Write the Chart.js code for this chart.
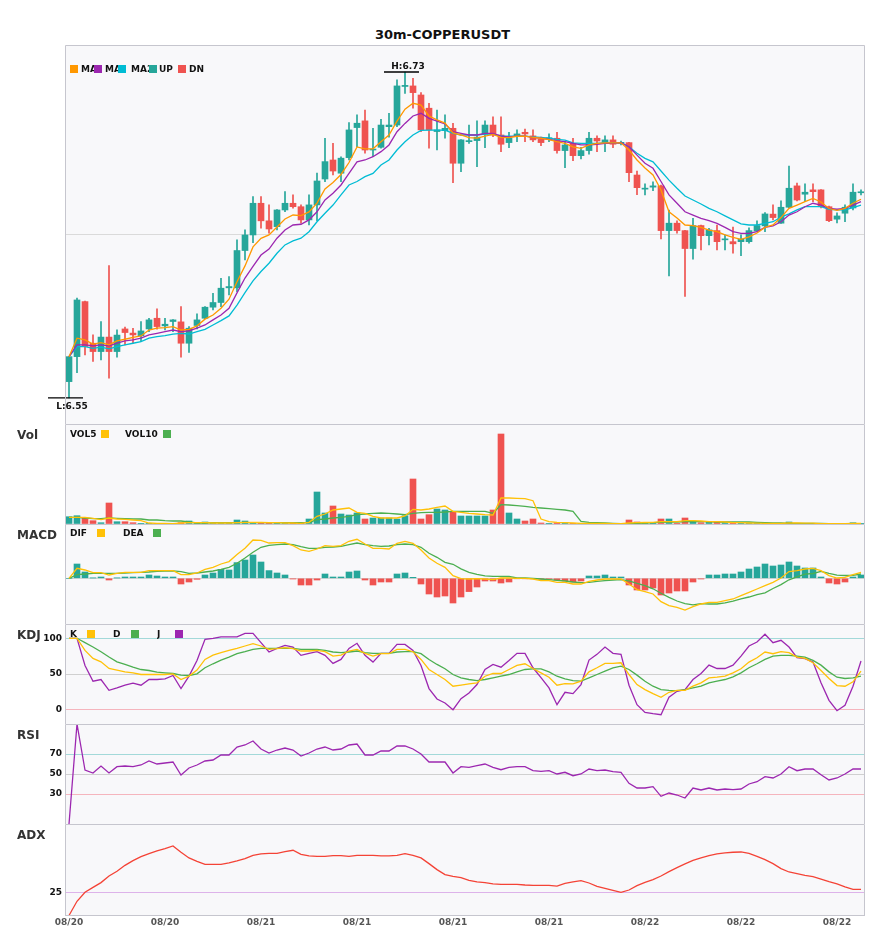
<!DOCTYPE html>
<html>
<head>
<meta charset="utf-8">
<title>30m-COPPERUSDT</title>
<script src="https://cdn.jsdelivr.net/npm/chart.js@4.4.0/dist/chart.umd.min.js"></script>
<style>
  body { margin: 0; background: #fff; font-family: "DejaVu Sans", sans-serif; }
  #page { position: relative; width: 885px; height: 950px; overflow: hidden; }
  .panel { position: absolute; left: 0; width: 885px; }
  .title { position: absolute; left: 0; top: 27px; width: 885px; text-align: center; font-weight: bold; font-size: 13px; line-height: 16px; color: #111; }
  .plabel { position: absolute; left: 17px; font-weight: bold; font-size: 12px; line-height: 16px; color: #333; }
  .leg { position: absolute; font-weight: bold; font-size: 9px; line-height: 10px; color: #111; white-space: nowrap; overflow: hidden; }
  .sq { position: absolute; width: 8px; height: 8px; }
</style>
</head>
<body>
<div id="page">
  <div class="title">30m-COPPERUSDT</div>

  <div class="panel" style="top:45px;height:379px"><canvas id="mainChart"></canvas></div>
  <div class="panel" style="top:424px;height:100px"><canvas id="volChart"></canvas></div>
  <div class="panel" style="top:524px;height:100px"><canvas id="macdChart"></canvas></div>
  <div class="panel" style="top:624px;height:100px"><canvas id="kdjChart"></canvas></div>
  <div class="panel" style="top:724px;height:100px"><canvas id="rsiChart"></canvas></div>
  <div class="panel" style="top:824px;height:126px"><canvas id="adxChart"></canvas></div>

  <div class="plabel" style="top:427px">Vol</div>
  <div class="plabel" style="top:527px">MACD</div>
  <div class="plabel" style="top:627px">KDJ</div>
  <div class="plabel" style="top:727px">RSI</div>
  <div class="plabel" style="top:827px">ADX</div>

  <!-- main legend: the MA names are partly covered by the next swatch -->
  <span class="leg" style="left:81px;top:64px;width:13px">MA5</span>
  <span class="leg" style="left:105px;top:64px;width:13px">MA10</span>
  <span class="leg" style="left:131px;top:64px;width:18px">MA20</span>
  <span class="leg" style="left:159px;top:64px">UP</span>
  <span class="leg" style="left:189px;top:64px">DN</span>
  <span class="sq" style="left:70px;top:65px;background:#ff9800"></span>
  <span class="sq" style="left:94px;top:65px;background:#9c27b0"></span>
  <span class="sq" style="left:118px;top:65px;background:#00bcd4"></span>
  <span class="sq" style="left:149px;top:65px;background:#26a69a"></span>
  <span class="sq" style="left:178px;top:65px;background:#ef5350"></span>

  <span class="leg" style="left:70px;top:429px">VOL5</span>
  <span class="sq" style="left:101px;top:430px;background:#ffc107"></span>
  <span class="leg" style="left:125px;top:429px">VOL10</span>
  <span class="sq" style="left:163px;top:430px;background:#4caf50"></span>

  <span class="leg" style="left:70px;top:528px">DIF</span>
  <span class="sq" style="left:97px;top:529px;background:#ffc107"></span>
  <span class="leg" style="left:123px;top:528px">DEA</span>
  <span class="sq" style="left:153px;top:529px;background:#4caf50"></span>

  <span class="leg" style="left:70px;top:629px">K</span>
  <span class="sq" style="left:87px;top:630px;background:#ffc107"></span>
  <span class="leg" style="left:113px;top:629px">D</span>
  <span class="sq" style="left:131px;top:630px;background:#4caf50"></span>
  <span class="leg" style="left:157px;top:629px">J</span>
  <span class="sq" style="left:175px;top:630px;background:#9c27b0"></span>
</div>

<script>
// 30 minute candles, 08/20 to 08/22
const categories = [];
for (let i = 0; i < 100; i++) {
  const t = new Date(Date.UTC(2025, 7, 20, 14, 0) + i * 30 * 60000);
  const p = (n) => String(n).padStart(2, '0');
  categories.push(p(t.getUTCMonth() + 1) + '/' + p(t.getUTCDate()) + ' ' + p(t.getUTCHours()) + ':' + p(t.getUTCMinutes()));
}

const opens = [
  6.5590,6.5728,6.6032,6.5802,6.5756,6.5836,6.5756,6.5881,6.5858,6.5843,
  6.5881,6.5940,6.5898,6.5922,6.5920,6.5802,6.5900,6.5940,6.6001,6.6027,
  6.6108,6.6108,6.6314,6.6400,6.6575,6.6478,6.6446,6.6538,6.6575,6.6556,
  6.6483,6.6566,6.6709,6.6814,6.6741,6.6827,6.6993,6.7030,6.6869,6.6884,
  6.6998,6.7007,6.7220,6.7223,6.7173,6.7100,6.6971,6.6976,6.6989,6.6796,
  6.6915,6.6921,6.6956,6.7007,6.6952,6.6910,6.6943,6.6967,6.6947,6.6928,
  6.6930,6.6934,6.6866,6.6906,6.6838,6.6866,6.6934,6.6910,6.6925,6.6906,
  6.6910,6.6731,6.6653,6.6664,6.6671,6.6424,6.6465,6.6424,6.6325,6.6452,
  6.6396,6.6424,6.6373,6.6363,6.6363,6.6363,6.6422,6.6450,6.6515,6.6465,
  6.6553,6.6671,6.6625,6.6649,6.6649,6.6556,6.6487,6.6520,6.6549,6.6633
];
const highs = [
  6.5730,6.6051,6.6035,6.5848,6.5922,6.6231,6.5876,6.5891,6.5885,6.5922,
  6.5940,6.5992,6.5940,6.5932,6.6004,6.5894,6.5964,6.6004,6.6078,6.6161,
  6.6170,6.6373,6.6428,6.6612,6.6612,6.6566,6.6540,6.6639,6.6621,6.6566,
  6.6621,6.6741,6.6934,6.6906,6.6832,6.7020,6.7063,6.7090,6.6989,6.7039,
  6.7072,6.7256,6.7300,6.7265,6.7186,6.7127,6.7090,6.7063,6.7017,6.6927,
  6.7007,6.7030,6.7030,6.7053,6.7053,6.6967,6.6980,6.6984,6.6980,6.6940,
  6.6958,6.6967,6.6915,6.6934,6.6884,6.6967,6.6947,6.6947,6.6947,6.6919,
  6.6912,6.6753,6.6682,6.6694,6.6676,6.6538,6.6478,6.6426,6.6492,6.6455,
  6.6437,6.6455,6.6400,6.6443,6.6400,6.6439,6.6478,6.6523,6.6566,6.6588,
  6.6781,6.6686,6.6682,6.6682,6.6651,6.6560,6.6522,6.6566,6.6682,6.6649
];
const lows = [
  6.5500,6.5640,6.5738,6.5701,6.5710,6.5609,6.5725,6.5793,6.5802,6.5811,
  6.5866,6.5880,6.5876,6.5866,6.5725,6.5751,6.5881,6.5938,6.5986,6.6004,
  6.6069,6.6087,6.6262,6.6358,6.6437,6.6410,6.6428,6.6529,6.6548,6.6465,
  6.6455,6.6479,6.6694,6.6731,6.6694,6.6814,6.6888,6.6851,6.6832,6.6879,
  6.6940,6.6998,6.7182,6.7100,6.6970,6.6879,6.6869,6.6934,6.6689,6.6750,
  6.6906,6.6777,6.6882,6.6943,6.6860,6.6882,6.6915,6.6915,6.6915,6.6893,
  6.6915,6.6851,6.6772,6.6810,6.6820,6.6846,6.6860,6.6860,6.6882,6.6897,
  6.6694,6.6623,6.6621,6.6645,6.6378,6.6174,6.6410,6.6060,6.6266,6.6317,
  6.6345,6.6317,6.6317,6.6299,6.6286,6.6355,6.6418,6.6418,6.6483,6.6463,
  6.6550,6.6588,6.6584,6.6584,6.6549,6.6474,6.6467,6.6474,6.6538,6.6621
];
const closes = [
  6.5728,6.6041,6.5784,6.5756,6.5836,6.5756,6.5847,6.5861,6.5848,6.5870,
  6.5931,6.5894,6.5907,6.5931,6.5802,6.5885,6.5931,6.6001,6.6027,6.6106,
  6.6115,6.6314,6.6400,6.6575,6.6478,6.6433,6.6538,6.6575,6.6556,6.6483,
  6.6566,6.6698,6.6805,6.6753,6.6824,6.6980,6.7017,6.6869,6.6873,6.7007,
  6.7007,6.7223,6.7226,6.7186,6.6980,6.6980,6.6980,6.6989,6.6796,6.6925,
  6.6921,6.6940,6.7007,6.6952,6.6901,6.6934,6.6958,6.6958,6.6925,6.6910,
  6.6937,6.6866,6.6897,6.6838,6.6866,6.6934,6.6919,6.6925,6.6901,6.6910,
  6.6744,6.6661,6.6658,6.6671,6.6424,6.6465,6.6424,6.6325,6.6452,6.6396,
  6.6428,6.6363,6.6377,6.6351,6.6377,6.6424,6.6452,6.6516,6.6496,6.6553,
  6.6658,6.6593,6.6636,6.6639,6.6556,6.6479,6.6505,6.6553,6.6636,6.6638
];

const ma5 = [
  6.5728,6.5830,6.5820,6.5797,6.5805,6.5793,6.5815,6.5824,6.5835,6.5842,
  6.5875,6.5885,6.5888,6.5894,6.5875,6.5879,6.5898,6.5935,6.5958,6.5995,
  6.6045,6.6142,6.6229,6.6334,6.6381,6.6400,6.6444,6.6488,6.6510,6.6507,
  6.6527,6.6576,6.6654,6.6690,6.6734,6.6800,6.6886,6.6875,6.6876,6.6915,
  6.6952,6.7029,6.7095,6.7127,6.7117,6.7057,6.7036,6.7018,6.6963,6.6952,
  6.6938,6.6935,6.6946,6.6955,6.6939,6.6937,6.6945,6.6946,6.6939,6.6934,
  6.6927,6.6915,6.6906,6.6887,6.6878,6.6897,6.6906,6.6909,6.6908,6.6909,
  6.6869,6.6814,6.6770,6.6731,6.6648,6.6528,6.6494,6.6455,6.6452,6.6442,
  6.6427,6.6418,6.6400,6.6387,6.6376,6.6389,6.6411,6.6442,6.6455,6.6496,
  6.6547,6.6565,6.6584,6.6602,6.6582,6.6546,6.6536,6.6547,6.6575,6.6597
];
const ma10 = [
  6.5728,6.5793,6.5793,6.5787,6.5793,6.5787,6.5802,6.5815,6.5820,6.5830,
  6.5848,6.5857,6.5866,6.5875,6.5866,6.5871,6.5885,6.5903,6.5931,6.5958,
  6.5995,6.6080,6.6162,6.6226,6.6289,6.6322,6.6382,6.6427,6.6455,6.6459,
  6.6483,6.6528,6.6593,6.6630,6.6676,6.6740,6.6804,6.6814,6.6832,6.6860,
  6.6897,6.6970,6.7016,6.7057,6.7072,6.7044,6.7029,6.7013,6.6970,6.6961,
  6.6952,6.6952,6.6961,6.6961,6.6946,6.6942,6.6946,6.6946,6.6939,6.6934,
  6.6928,6.6920,6.6915,6.6906,6.6897,6.6897,6.6900,6.6906,6.6906,6.6909,
  6.6887,6.6841,6.6796,6.6768,6.6695,6.6621,6.6575,6.6528,6.6510,6.6492,
  6.6479,6.6464,6.6442,6.6418,6.6409,6.6409,6.6418,6.6442,6.6450,6.6473,
  6.6510,6.6528,6.6556,6.6575,6.6565,6.6547,6.6542,6.6547,6.6565,6.6584
];
const ma20 = [
  6.5728,6.5783,6.5783,6.5774,6.5780,6.5771,6.5783,6.5793,6.5802,6.5811,
  6.5830,6.5838,6.5844,6.5852,6.5857,6.5853,6.5866,6.5879,6.5903,6.5927,
  6.5953,6.6013,6.6082,6.6146,6.6198,6.6244,6.6299,6.6345,6.6367,6.6382,
  6.6418,6.6473,6.6520,6.6565,6.6621,6.6676,6.6695,6.6722,6.6740,6.6786,
  6.6814,6.6869,6.6915,6.6952,6.6977,6.6979,6.6979,6.6979,6.6961,6.6952,
  6.6952,6.6952,6.6957,6.6957,6.6946,6.6946,6.6946,6.6946,6.6942,6.6939,
  6.6934,6.6928,6.6924,6.6909,6.6906,6.6906,6.6906,6.6909,6.6909,6.6909,
  6.6887,6.6851,6.6823,6.6804,6.6753,6.6703,6.6658,6.6615,6.6593,6.6571,
  6.6547,6.6528,6.6505,6.6483,6.6461,6.6455,6.6455,6.6464,6.6473,6.6498,
  6.6516,6.6538,6.6556,6.6556,6.6556,6.6542,6.6538,6.6538,6.6551,6.6565
];

// volume in thousands
const volumes = [
  7.3,8.3,5.7,3.3,1.3,21,2.3,2.3,1.3,0.3,
  0.3,0.7,0.2,0.2,1.3,3,1,2,1,1,
  1,4,3,1.7,1.7,1.7,0.7,1,0.7,1,
  5,32,11,18,10,9,11,5,6,6,
  6,5,8.3,45,5,9.3,15,14,12,8,
  8,8,8,14,90,11,5,3,5,1,
  0.3,1.3,1.3,0.7,0.3,0.5,0.7,0.3,0.2,0.2,
  4,2,0.7,0.7,5,5,0.3,6,3,1.3,
  2,2.3,1.7,1,0.7,1,0.7,1,0.7,0.7,
  2,0.7,0.7,0.7,0.3,0.3,0.2,0.3,1.3,0.3
];
const vol5 = [
  6.7,6.7,6.7,5.7,4.3,6,5,4.7,4,3.3,
  1,0.7,0.7,0.3,1,1.3,1.3,1.3,1,1,
  1,1.3,1.7,1.7,1.7,1.3,1.3,1,1,0.7,
  1.7,7.7,10,14,15,16,11.7,10.7,7.7,6,
  6,6,8,14.7,14,15,16.7,18,12.7,11.7,
  10.7,10,9.3,9,26,26,25.7,25.3,23.3,5,
  2.3,1.7,1.3,1,0.7,0.7,0.5,0.5,0.3,0.3,
  1,1.3,1.5,1.7,2.3,2.3,2.3,3.3,3.3,3,
  2.3,2.3,2,1.3,1.3,1,0.8,0.7,0.7,0.7,
  1,1,0.8,0.8,0.3,0.3,0.3,0.3,0.7,0.7
];
const vol10 = [
  6.7,6.7,6,5.3,5.3,6,5.7,5.3,5,5,
  4,4,3.3,3,3,2,1,1,1.3,1.3,
  1.3,1.3,1.3,1.3,1.3,1.3,1.3,1.3,1.3,1.3,
  1.3,4.3,5,6,6.7,7.7,9.3,10,10.7,11,
  10.7,10,9.3,10.7,11.3,11.7,11.7,12,12.7,12.7,
  12.7,12.7,12.7,10.7,19.3,19,18.3,17.7,16.7,16,
  15.3,14.7,14,12.7,2.7,1.7,1.3,1,0.7,0.3,
  0.3,0.7,1,1.3,1.7,2,2,2.3,2.3,2.3,
  2.3,2,2,2,2,2,1.7,1.3,1,1,
  0.7,0.7,0.7,0.7,0.7,0.3,0.3,0.3,0.3,0.3
];

// MACD, in units of 1e-4
const macdHist = [
  0,14.3,6.3,0.3,1.3,-1.7,0.3,1.3,1.3,1.3,
  3.3,2.3,1.3,1.3,-5.7,-3.7,-1,3.3,5.3,9,
  8.3,15.7,18.3,23.3,16.3,7.7,5.3,3.3,-0.7,-6.7,
  -6.7,-1.7,4.3,1.3,1.3,6.3,7.3,-1.7,-6.7,-3.7,
  -3.7,4.3,5.3,1,-5.7,-15.7,-18.7,-17.7,-24.7,-18.7,
  -13.3,-8.7,-2.7,-2.7,-4.7,-3.7,-0.3,-0.3,-0.3,-1,
  -1,-1.7,-2.7,-3.7,-2.7,2.3,2.3,3.3,1.3,1.3,
  -6.7,-11.7,-11.7,-9.7,-16.7,-14.7,-12.7,-12.7,-3.7,-0.7,
  3.3,3.3,4.3,4.3,6.3,9.3,11.3,14.3,12.3,13.3,
  16.3,12.3,10.3,10.3,1.3,-4.7,-5.7,-3.7,1.3,3.3
];
const dif = [
  0,10,8.3,5.7,5.7,3.3,5,6,6,6,
  7.7,7.7,7.7,7.7,3.7,3.7,5.3,9,11,14.3,
  16.7,23.7,30,38.3,38,35.3,35.7,35.7,32.7,28.3,
  27,29.3,32.7,32,32.7,37,39,34.3,30,30,
  29.3,35,37,35,28.3,20.3,15,11,2.7,-0.3,
  -0.7,-0.3,-0.7,-1.3,0.3,0.3,0,0,-0.7,-2.3,
  -2.3,-4,-4,-5.7,-5.7,-3,-1.7,-0.7,-0.7,-0.7,
  -5.7,-11.3,-13.3,-15.7,-23.3,-27.3,-29,-31.7,-28.3,-25.7,
  -24,-24,-22.3,-20.7,-17.3,-14,-10.7,-7.3,-4,0.3,
  6.7,7.7,9.3,10,7.7,2.7,0.3,1,3.7,6
];
const dea = [
  0,3.7,4.3,5,5,5,5,5.3,5.7,6,
  6.3,7,7.3,7.5,6.7,5,5.3,6.3,7.3,9,
  11,15,20.3,26,31,33,33.7,34.3,33.7,31.7,
  30,30,31,31.3,32,33.7,35.3,33.7,32.7,32,
  32.3,33.7,34.3,33.7,31,25,21,16,14,9.5,
  6,4,2.5,2,2,1.8,0.5,0.3,0,-0.7,
  -1.3,-2,-2.7,-3.7,-4.3,-4,-3,-2.3,-1.7,-1.3,
  -2.5,-5,-7.3,-10.5,-15,-19,-22.7,-25.3,-26.5,-25.3,
  -25.7,-25.7,-24.5,-22.8,-20.5,-18.7,-16.3,-14.5,-10.2,-6.3,
  -1.5,1.5,4.2,4.8,7,5,3.2,2.8,3,4.3
];

const kValues = [
  100,100,83,71.8,67,57.7,55.4,53,51.6,49.3,
  49.3,49.3,49.3,50.2,42.3,47,55.4,70.4,76.5,79.8,
  83,85.9,89.2,92.5,89.2,84.5,85.4,86.9,85.4,82.2,
  82.2,83.1,81.2,75.1,76.5,82.2,84.5,78.9,75.1,78.4,
  78.4,84.5,84.5,81.2,70.4,56.3,49.3,42.3,32.9,34.5,
  36.2,37.6,46.9,50.7,50.7,56.3,62,64.3,57.7,51.6,
  45.5,34.3,36.6,36.2,39.9,53,58.7,64.8,64.8,65.7,
  49.3,35.2,28.2,22.5,17.4,24.4,27.2,27.2,32.9,37.6,
  44.6,45.5,46.9,51.6,57.3,66.7,72.8,80.8,78.4,81.2,
  79.8,73.7,71.8,65.7,54.9,43.7,33.8,32.9,39,54
];
const dValues = [
  100,100,93.9,87.8,81.2,73.7,67.1,63.4,59.6,56.3,
  54.9,52.6,51.6,50.7,48.4,47.9,50.2,58.7,64.3,69.5,
  73.7,78.4,81.2,84.5,85.9,85.9,85.9,85.9,85.9,84.5,
  84.5,84.5,83.1,80.8,79.8,80.8,82.2,79.8,78.9,78.9,
  78.9,80.8,81.2,81.2,78.4,70.4,63.4,57.3,49.3,44.6,
  42.3,40.8,42.3,44.6,46.9,49.3,53,56.3,57.3,57.3,
  53,46.9,43.2,40.8,39.9,44.6,49.3,54,58.7,61,
  56.3,48.4,39.9,32.9,28.2,27.2,26.8,28.2,30.5,32.9,
  37.6,39.9,42.3,46,51.6,58.7,64.3,70.4,75.1,76.1,
  76.1,75.1,73.7,69,62.4,53,45.5,43.7,44.6,46.9
];
const jValues = [
  100,100,62,39.9,42.3,27.2,30.5,34.3,37.1,34.3,
  42.3,42.3,43.2,47.9,29.6,47,69,98.6,100,101.9,
  101.9,101.9,107,107,93.9,80.8,85.9,90.1,87.8,76.1,
  78.9,81.2,76.1,64.8,70.4,85.9,93,76.1,66.7,78.9,
  78.9,91.5,91.5,83.1,62,29.6,15,9.4,0,15.5,
  23.5,35.2,56.3,63.4,59.6,69,78.9,78.9,58.7,45,
  30.5,7,24.4,22.5,35.2,69.5,77.5,87.8,78.9,77.5,
  34.3,7,-3.8,-5.6,-7,17.4,25.8,28.2,42.3,50.7,
  62.4,57.7,57.7,62.4,75.1,89.2,94.8,105.6,93.9,97.2,
  87.8,72.8,71.4,66.7,37.6,13.1,-1.4,6.1,32.9,68.1
];

const rsiValues = [
  0,100,54,51,58,51,57.3,58,57.3,59,
  63,60,61,62,49,56,59,63,64,69,
  69,77,79,83,75,71,74,76,74,68,
  71,75,77,74,75,79,80,69,69,73,
  73,78,78,75,70,62,62,62,51,57.3,
  56.7,58.3,60,56.7,54.3,56.7,57.3,57.3,53.3,52.7,
  53.3,50,51.7,48.3,50,55,53.3,54,52.3,51.7,
  40.7,36,36,37.3,27.7,31,29,26,36,34,
  36,34,35,34.3,35,40,42.3,47.3,46,50,
  57.3,53.3,55,55,49.3,44,46,50,55,55
];

const adxValues = [
  0.5,15.5,25,30.2,35.2,42.2,47.1,53.4,58.4,62.6,
  65.8,68.6,71,73.8,67.2,61.2,57.7,54.5,54.5,54.5,
  55.9,58,60.5,64,65.4,66.1,66.1,67.9,69.3,65,
  63.3,62.9,62.9,63.6,63.6,62.9,64,64,64,63.3,
  63.3,64,65.8,64,61.2,55.2,48.9,43.6,41.8,40.4,
  37.6,35.9,35.2,33.8,33.4,33.4,33.4,32.7,32.3,32.3,
  32.3,31.6,34.5,35.9,37.3,34.8,31.3,29.2,27.1,25,
  27.4,32,35.5,38.3,42.2,46.8,51,54.9,58.7,61.2,
  63.6,65.4,66.5,67.2,67.5,66.1,62.9,59.4,55.2,49.9,
  46.4,44.7,42.9,41.5,39,36.2,33.8,30.6,28.1,28.1
];

const UP = '#26a69a';
const DN = '#ef5350';
const YELLOW = '#ffc107';
const GREEN = '#4caf50';
const PURPLE = '#9c27b0';

const candleColors = closes.map((c, i) => c >= opens[i] ? UP : DN);
const histColors = macdHist.map((v) => v >= 0 ? UP : DN);

Chart.defaults.font.family = '"DejaVu Sans", sans-serif';
const tickFont = { family: '"DejaVu Sans", sans-serif', weight: 'bold', size: 9 };

//background and frame of every panel
const panelFrame = {
  id: 'panelFrame',
  beforeDraw(chart) {
    const a = chart.chartArea;
    const ctx = chart.ctx;
    ctx.save();
    ctx.fillStyle = '#f8f8fa';
    ctx.fillRect(a.left, a.top, a.right - a.left, a.bottom - a.top);
    ctx.restore();
  },
  afterDraw(chart, args, opts) {
    const a = chart.chartArea;
    const ctx = chart.ctx;
    ctx.save();
    ctx.strokeStyle = '#c6c6ce';
    ctx.lineWidth = 1;
    ctx.beginPath();
    ctx.moveTo(a.left + 0.5, a.bottom);
    ctx.lineTo(a.left + 0.5, a.top + 0.5);
    ctx.lineTo(a.right - 0.5, a.top + 0.5);
    ctx.lineTo(a.right - 0.5, a.bottom);
    if (opts.bottom) {
      ctx.moveTo(a.left, a.bottom - 0.5);
      ctx.lineTo(a.right, a.bottom - 0.5);
    }
    ctx.stroke();
    ctx.restore();
  }
};

//marks the highest high and lowest low of the window
const hiLoMarks = {
  id: 'hiLoMarks',
  afterDatasetsDraw(chart) {
    const { ctx, scales } = chart;
    const hi = highs.indexOf(Math.max(...highs));
    const lo = lows.indexOf(Math.min(...lows));
    ctx.save();
    ctx.strokeStyle = '#000';
    ctx.fillStyle = '#111';
    ctx.lineWidth = 1.3;
    ctx.font = 'bold 9px "DejaVu Sans"';
    ctx.textAlign = 'center';

    let x = scales.x.getPixelForValue(hi);
    let y = scales.y.getPixelForValue(highs[hi]);
    ctx.beginPath();
    ctx.moveTo(x - 21, y);
    ctx.lineTo(x + 14, y);
    ctx.stroke();
    ctx.textBaseline = 'alphabetic';
    ctx.fillText('H:' + highs[hi].toFixed(2), x + 3, y - 3);

    x = scales.x.getPixelForValue(lo);
    y = scales.y.getPixelForValue(lows[lo]);
    ctx.beginPath();
    ctx.moveTo(x - 21, y);
    ctx.lineTo(x + 14, y);
    ctx.stroke();
    ctx.textBaseline = 'top';
    ctx.fillText('L:' + lows[lo].toFixed(2), x + 3, y + 4);
    ctx.restore();
  }
};

function lineSet(data, color, width) {
  return {
    type: 'line',
    data: data,
    borderColor: color,
    borderWidth: width || 1.3,
    pointRadius: 0,
    tension: 0,
    fill: false,
    order: 0
  };
}

//one stacked panel, all sharing the same x layout
function makePanel(id, type, datasets, y, showX, extraPlugins) {
  return new Chart(document.getElementById(id), {
    type: type,
    data: { labels: categories, datasets: datasets },
    options: {
      responsive: true,
      maintainAspectRatio: false,
      animation: false,
      events: [],
      layout: { padding: { left: 0, right: 20, top: 0, bottom: 0 } },
      plugins: {
        legend: { display: false },
        tooltip: { enabled: false },
        panelFrame: { bottom: showX }
      },
      scales: {
        x: {
          offset: true,
          grid: { display: false, drawTicks: false },
          border: { display: false },
          ticks: showX ? {
            autoSkip: false,
            maxRotation: 0,
            padding: 1,
            color: '#555',
            font: tickFont,
            callback: (v, i) => i % 12 === 0 ? categories[i].slice(0, 5) : ''
          } : { display: false },
          afterFit: (s) => {
            s.height = showX ? 34 : 0;
            s.paddingLeft = 0;
            s.paddingRight = 0;
          }
        },
        y: {
          min: y.min,
          max: y.max,
          afterBuildTicks: (s) => { s.ticks = y.lines.map((v) => ({ value: v })); },
          afterFit: (s) => {
            // fixed gutter, and no extra room for the tick labels above and below
            s.width = 65;
            s.paddingTop = 0;
            s.paddingBottom = 0;
          },
          grid: {
            drawTicks: false,
            lineWidth: 1,
            color: (c) => (c.tick && y.colors[c.tick.value]) || 'rgba(0,0,0,0)'
          },
          border: { display: false },
          ticks: { display: !!y.labels, padding: 3, color: '#111', font: tickFont }
        }
      }
    },
    plugins: [panelFrame].concat(extraPlugins || [])
  });
}

// candles: thin wick bar under a wider body bar
makePanel('mainChart', 'bar', [
  {
    type: 'bar',
    data: lows.map((l, i) => [l, highs[i]]),
    backgroundColor: candleColors,
    barThickness: 1,
    grouped: false,
    order: 3
  },
  {
    type: 'bar',
    data: opens.map((o, i) => [o, closes[i]]),
    backgroundColor: candleColors,
    barThickness: 6,
    minBarLength: 1,
    grouped: false,
    order: 2
  },
  lineSet(ma5, '#ff9800'),
  lineSet(ma10, PURPLE),
  lineSet(ma20, '#00bcd4')
], { min: 6.5356, max: 6.7449, lines: [6.64], colors: { 6.64: '#dadada' } }, false, [hiLoMarks]);

makePanel('volChart', 'bar', [
  { type: 'bar', data: volumes, backgroundColor: candleColors, barThickness: 6, order: 2 },
  lineSet(vol5, YELLOW),
  lineSet(vol10, GREEN)
], { min: 0, max: 100, lines: [0], colors: {} }, false);

makePanel('macdChart', 'bar', [
  { type: 'bar', data: macdHist, backgroundColor: histColors, barThickness: 6, order: 2 },
  lineSet(dif, YELLOW),
  lineSet(dea, GREEN)
], { min: -45.7, max: 54.3, lines: [0], colors: { 0: '#d6d6d6' } }, false);

makePanel('kdjChart', 'line', [
  lineSet(kValues, YELLOW),
  lineSet(dValues, GREEN),
  lineSet(jValues, PURPLE)
], { min: -20, max: 120, lines: [0, 50, 100], labels: true,
     colors: { 0: '#f5b5bd', 50: '#d0d0d0', 100: '#a3d9d9' } }, false);

makePanel('rsiChart', 'line', [
  lineSet(rsiValues, PURPLE)
], { min: 0, max: 100, lines: [30, 50, 70], labels: true,
     colors: { 30: '#f5b5bd', 50: '#d0d0d0', 70: '#a3d9d9' } }, false);

makePanel('adxChart', 'line', [
  lineSet(adxValues, '#f44336')
], { min: 0, max: 97, lines: [25], labels: true, colors: { 25: '#ddb3ea' } }, true);
</script>
</body>
</html>
